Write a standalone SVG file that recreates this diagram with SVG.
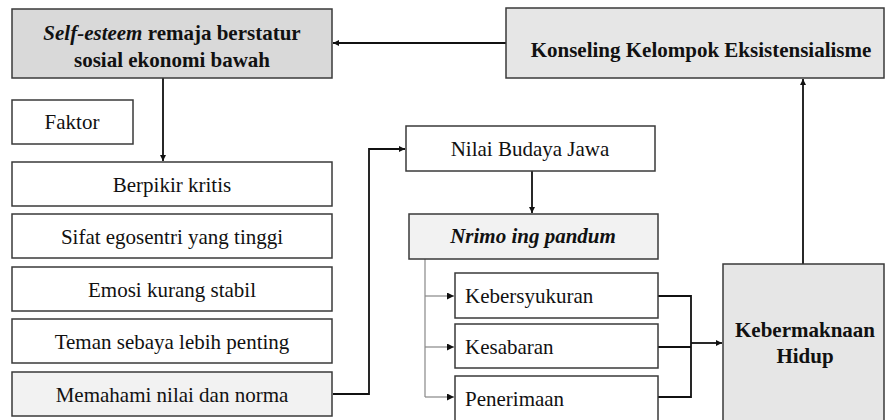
<svg xmlns="http://www.w3.org/2000/svg" width="885" height="420" viewBox="0 0 885 420">
<style>
.box{stroke:#3a3a3a;stroke-width:1.5}
.t{font-family:'Liberation Serif','DejaVu Serif','Noto Serif',serif;font-size:21px;fill:#111}
.b{font-weight:bold}
.c{text-anchor:middle}
.ln{fill:none;stroke:#111;stroke-width:1.8}
.gl{fill:none;stroke:#888;stroke-width:1.2}
</style>
<defs>
<marker id="ah" viewBox="0 0 10 10" refX="10" refY="5" markerWidth="6" markerHeight="6" markerUnits="userSpaceOnUse" orient="auto"><path d="M0,0 L10,5 L0,10 z" fill="#111"/></marker>
<marker id="ag" viewBox="0 0 10 10" refX="10" refY="5" markerWidth="7" markerHeight="7" markerUnits="userSpaceOnUse" orient="auto"><path d="M0,0 L10,5 L0,10 z" fill="#111"/></marker>
</defs>
<rect width="885" height="420" fill="#fff"/>
<g id="connectors">
<path class="ln" d="M506,43 H333" marker-end="url(#ah)"/>
<path class="ln" d="M803,264 V79" marker-end="url(#ah)"/>
<path class="ln" d="M163,78 V161" marker-end="url(#ah)"/>
<path class="ln" d="M333,394 H369 V149 H405" marker-end="url(#ah)"/>
<path class="ln" d="M532,171 V213" marker-end="url(#ah)"/>
<path class="gl" d="M425,259 V397"/>
<path class="gl" d="M425,296 H454" marker-end="url(#ag)"/>
<path class="gl" d="M425,347 H454" marker-end="url(#ag)"/>
<path class="gl" d="M425,397 H454" marker-end="url(#ag)"/>
<path class="ln" d="M658,296 H691 V397 H658 M658,347 H691"/>
<path class="ln" d="M691,343 H722" marker-end="url(#ah)"/>
</g>
<g id="n1"><rect class="box" x="12" y="9" width="320" height="69" fill="#d9d9d9"/>
<text class="t b c" x="172" y="40"><tspan font-style="italic">Self-esteem</tspan> remaja berstatur</text>
<text class="t b c" x="172" y="67">sosial ekonomi bawah</text></g>
<g id="n2"><rect class="box" x="506" y="8" width="378" height="70" fill="#e6e6e6"/>
<text class="t b c" x="701" y="57">Konseling Kelompok Eksistensialisme</text></g>
<g id="n3"><rect class="box" x="12" y="100" width="121" height="44" fill="#fff"/>
<text class="t c" x="72" y="129">Faktor</text></g>
<g id="n4"><rect class="box" x="12" y="162" width="320" height="44" fill="#fff"/>
<text class="t c" x="172" y="192">Berpikir kritis</text></g>
<g id="n5"><rect class="box" x="12" y="214" width="320" height="44" fill="#fff"/>
<text class="t c" x="172" y="244">Sifat egosentri yang tinggi</text></g>
<g id="n6"><rect class="box" x="12" y="267" width="320" height="44" fill="#fff"/>
<text class="t c" x="172" y="297">Emosi kurang stabil</text></g>
<g id="n7"><rect class="box" x="12" y="319" width="320" height="44" fill="#fff"/>
<text class="t c" x="172" y="349">Teman sebaya lebih penting</text></g>
<g id="n8"><rect class="box" x="12" y="372" width="320" height="44" fill="#f2f2f2"/>
<text class="t c" x="172" y="402">Memahami nilai dan norma</text></g>
<g id="n9"><rect class="box" x="406" y="126" width="249" height="45" fill="#fff"/>
<text class="t c" x="530" y="156">Nilai Budaya Jawa</text></g>
<g id="n10"><rect class="box" x="409" y="214" width="249" height="45" fill="#f2f2f2"/>
<text class="t b c" x="533" y="243" font-style="italic">Nrimo ing pandum</text></g>
<g id="n11"><rect class="box" x="455" y="273" width="203" height="45" fill="#fff"/>
<text class="t" x="465" y="303">Kebersyukuran</text></g>
<g id="n12"><rect class="box" x="455" y="324" width="203" height="44" fill="#fff"/>
<text class="t" x="465" y="354">Kesabaran</text></g>
<g id="n13"><rect class="box" x="455" y="376" width="203" height="46" fill="#fff"/>
<text class="t" x="465" y="406">Penerimaan</text></g>
<g id="n14"><rect class="box" x="723" y="264" width="161" height="160" fill="#e6e6e6"/>
<text class="t b c" x="805" y="337">Kebermaknaan</text>
<text class="t b c" x="805" y="363">Hidup</text></g>
</svg>
